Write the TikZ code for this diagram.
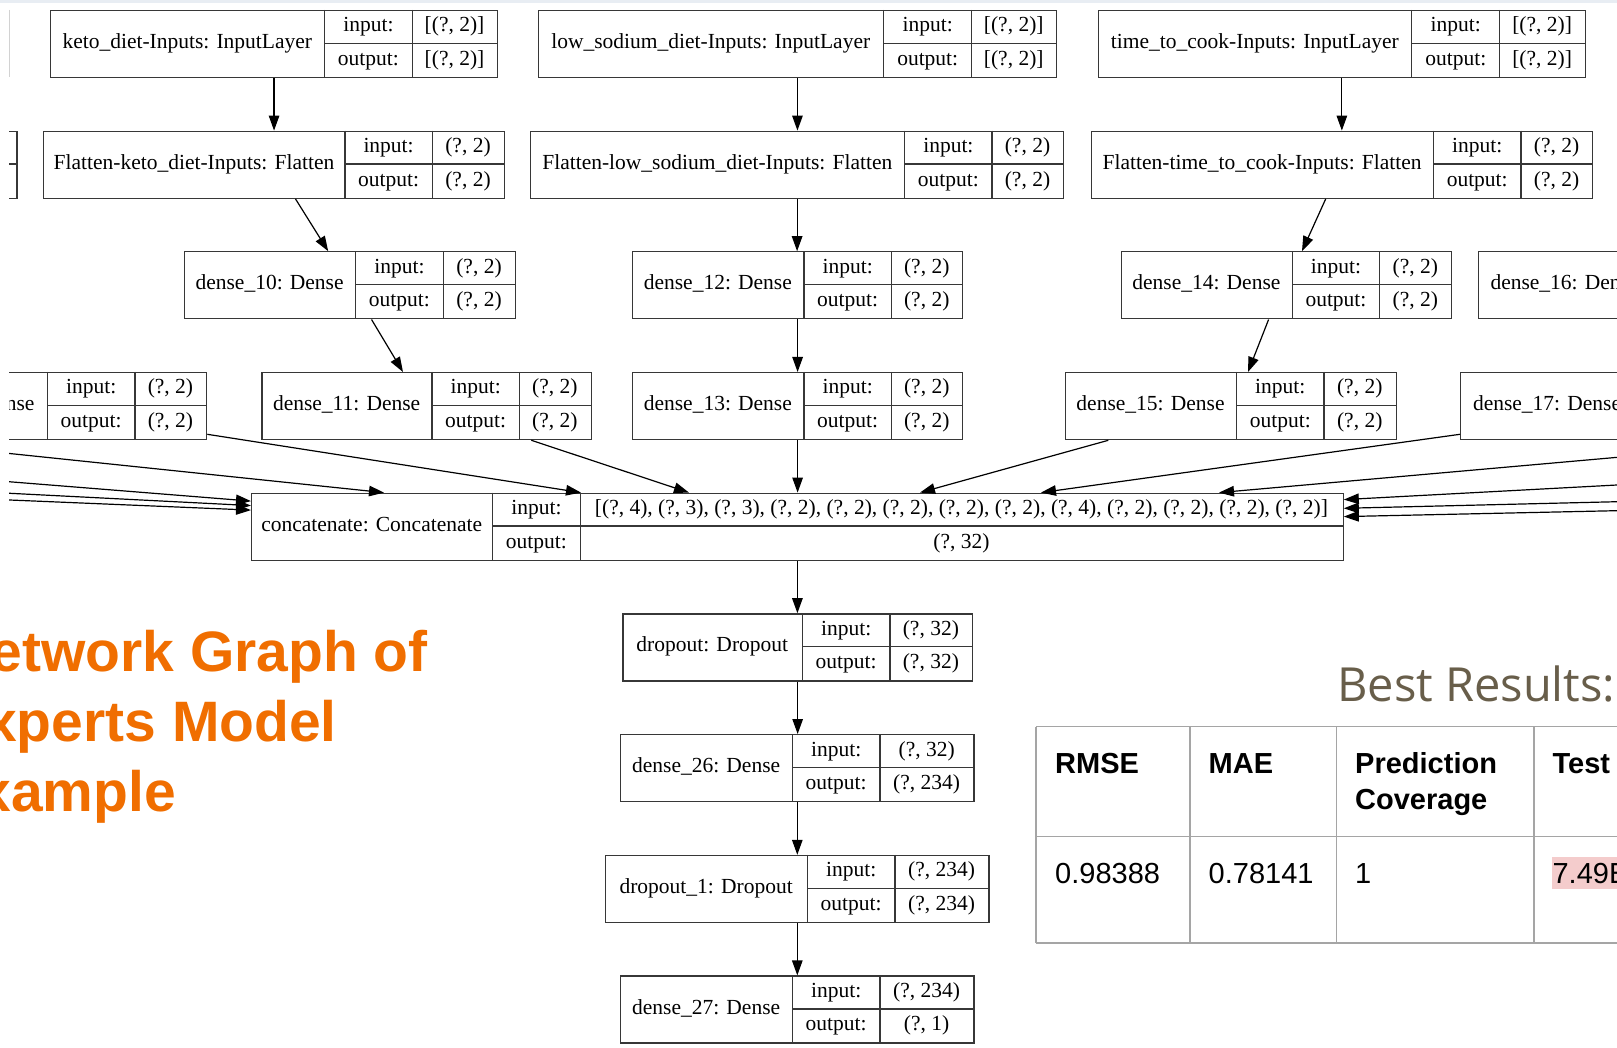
\documentclass[tikz,border=0pt]{standalone}
\usepackage{fontspec}
\setmainfont{Liberation Serif}
\newfontfamily\arialx{Liberation Sans}
\newfontfamily\opensx{Open Sans}
\usetikzlibrary{arrows.meta}
\definecolor{boxgray}{RGB}{55,55,55}
\definecolor{titleorange}{RGB}{240,110,0}
\definecolor{bestcol}{RGB}{104,94,74}
\definecolor{tblgray}{RGB}{165,165,165}
\definecolor{pinkhl}{RGB}{244,204,204}
\definecolor{topband}{RGB}{232,237,243}
\newcommand{\lblfont}{\fontsize{21.5}{24}\selectfont}
\tikzset{
  box/.style={draw=boxgray, line width=1.3pt, inner sep=0pt, anchor=north west},
  boxline/.style={draw=boxgray, line width=1.3pt},
  cell/.style={font=\lblfont, inner sep=0pt, text height=15pt, text depth=4.5pt},
  edge/.style={draw=black, line width=1.2pt, -{Triangle[length=15pt,width=10.5pt]}},
  ttl/.style={font={\arialx\bfseries\fontsize{57}{60}\selectfont}, text=titleorange, inner sep=0pt, anchor=base east},
  tbh/.style={font={\arialx\bfseries\fontsize{29}{32}\selectfont}, inner sep=0pt, anchor=base west},
  tbv/.style={font={\arialx\fontsize{29}{32}\selectfont}, inner sep=0pt, anchor=base west},
  tblline/.style={draw=tblgray, line width=1.8pt},
}
% #1 name, #2 left, #3 div1, #4 div2, #5 right, #6 top, #7 label, #8 input value, #9 output value
\newcommand{\klayer}[9]{%
  \node[box, minimum width={#5-#2}, minimum height=67] (#1) at (#2,#6) {};
  \draw[boxline] (#3,#6) -- (#3,{#6+67}) (#4,#6) -- (#4,{#6+67}) (#3,{#6+33.5}) -- (#5,{#6+33.5});
  \node[cell] (#1-n) at ({(#2+#3)/2},{#6+33.5}) {#7};
  \node[cell] (#1-il) at ({(#3+#4)/2},{#6+16.75}) {input:};
  \node[cell] (#1-ol) at ({(#3+#4)/2},{#6+50.25}) {output:};
  \node[cell] (#1-iv) at ({(#4+#5)/2},{#6+16.75}) {#8};
  \node[cell] (#1-ov) at ({(#4+#5)/2},{#6+50.25}) {#9};
}
\begin{document}
\begin{tikzpicture}[x=1pt,y=-1pt]
\clip (0,0) rectangle (1617,1048);
\fill[white] (0,0) rectangle (1617,1048);
\fill[topband] (0,0) rectangle (1617,3.3);
\draw[gray!35, line width=1pt] (9,10) -- (9,77);

\begin{scope}
\clip (9,3.3) rectangle (1617,1048);
% row 1
\klayer{keto}{49.9}{324.7}{412.2}{496.9}{10}{keto\_diet-Inputs: InputLayer}{[(?, 2)]}{[(?, 2)]}
\klayer{low}{537.9}{883.6}{971.8}{1055.7}{10}{low\_sodium\_diet-Inputs: InputLayer}{[(?, 2)]}{[(?, 2)]}
\klayer{time}{1097.9}{1411.8}{1499.7}{1584.5}{10}{time\_to\_cook-Inputs: InputLayer}{[(?, 2)]}{[(?, 2)]}
% row 2
\node[box, minimum width=200, minimum height=67] (fl0) at (-183.8,130.6) {};
\draw[boxline] (-100,164.1) -- (16.2,164.1);
\klayer{flat1}{43}{345}{432.2}{503.8}{130.6}{Flatten-keto\_diet-Inputs: Flatten}{(?, 2)}{(?, 2)}
\klayer{flat2}{530}{904.6}{992.1}{1062.9}{130.6}{Flatten-low\_sodium\_diet-Inputs: Flatten}{(?, 2)}{(?, 2)}
\klayer{flat3}{1090.9}{1433.4}{1521}{1592.1}{130.6}{Flatten-time\_to\_cook-Inputs: Flatten}{(?, 2)}{(?, 2)}
% row 3
\klayer{d10}{183.5}{355.7}{443.2}{514.8}{251.2}{dense\_10: Dense}{(?, 2)}{(?, 2)}
\klayer{d12}{631.8}{803.9}{891.4}{962.1}{251.2}{dense\_12: Dense}{(?, 2)}{(?, 2)}
\klayer{d14}{1120.6}{1292.2}{1379.7}{1450.9}{251.2}{dense\_14: Dense}{(?, 2)}{(?, 2)}
\node[box, minimum width=400, minimum height=67] (d16) at (1478.1,251.2) {};
\node[cell, anchor=west] (d16-n) at (1490.3,284.7) {dense\_16: Den};
% row 4
\node[box, minimum width=330.1, minimum height=67] (dL) at (-124.1,372) {};
\draw[boxline] (47.4,372) -- (47.4,439) (134.9,372) -- (134.9,439) (47.4,405.5) -- (206,405.5);
\node[cell, anchor=east] (dL-n) at (34.7,405.5) {nse};
\node[cell] (dL-il) at (91.15,388.75) {input:};
\node[cell] (dL-ol) at (91.15,422.25) {output:};
\node[cell] (dL-iv) at (170.45,388.75) {(?, 2)};
\node[cell] (dL-ov) at (170.45,422.25) {(?, 2)};
\klayer{d11}{261.2}{432.1}{519.2}{590.6}{372}{dense\_11: Dense}{(?, 2)}{(?, 2)}
\klayer{d13}{631.8}{803.9}{891.4}{962.1}{372}{dense\_13: Dense}{(?, 2)}{(?, 2)}
\klayer{d15}{1064.5}{1236.5}{1324}{1395.5}{372}{dense\_15: Dense}{(?, 2)}{(?, 2)}
\node[box, minimum width=400, minimum height=67] (d17) at (1460,372) {};
\node[cell, anchor=west] (d17-n) at (1472.8,405.5) {dense\_17: Dense};
% concatenate
\klayer{concat}{251}{492.4}{580.4}{1342.5}{492.6}{concatenate: Concatenate}{[(?, 4), (?, 3), (?, 3), (?, 2), (?, 2), (?, 2), (?, 2), (?, 2), (?, 4), (?, 2), (?, 2), (?, 2), (?, 2)]}{(?, 32)}
% lower chain
\klayer{drop}{622.3}{802.3}{890}{971.7}{613.2}{dropout: Dropout}{(?, 32)}{(?, 32)}
\klayer{d26}{620}{792.3}{880}{973.3}{734}{dense\_26: Dense}{(?, 32)}{(?, 234)}
\klayer{drop1}{605}{807.3}{895}{988.3}{854.8}{dropout\_1: Dropout}{(?, 234)}{(?, 234)}
\klayer{d27}{620}{792.3}{880}{973.3}{975.4}{dense\_27: Dense}{(?, 234)}{(?, 1)}

% free ends of edges from off-picture nodes
\coordinate (inA) at (0,452.5);
\coordinate (inL1) at (0,481);
\coordinate (inL2) at (0,492.8);
\coordinate (inL3) at (0,499.6);
\coordinate (inG) at (1630,456.2);
\coordinate (inR1) at (1630,484.3);
\coordinate (inR2) at (1630,501.4);
\coordinate (inR3) at (1630,510.4);

% edges
\draw[edge] (keto.south) -- (keto.south |- flat1.north);
\draw[edge] (low.south) -- (low.south |- flat2.north);
\draw[edge] (time.south) -- (time.south |- flat3.north);
\draw[edge] ([xshift=252.5]flat1.south west) -- ([xshift=144.7]d10.north west);
\draw[edge] (flat2.south) -- (flat2.south |- d12.north);
\draw[edge] ([xshift=234.8]flat3.south west) -- ([xshift=181.4]d14.north west);
\draw[edge] ([xshift=188]d10.south west) -- ([xshift=141.8]d11.north west);
\draw[edge] (d12.south) -- (d12.south |- d13.north);
\draw[edge] ([xshift=148]d14.south west) -- ([xshift=183.5]d15.north west);

\draw[edge] (inA) -- ([xshift=133]concat.north west);
\draw[edge] ([yshift=6]dL.south east) -- ([xshift=330]concat.north west);
\draw[edge] ([xshift=270.1]d11.south west) -- ([xshift=438]concat.north west);
\draw[edge] (d13.south) -- (d13.south |- concat.north);
\draw[edge] ([xshift=43.8]d15.south west) -- ([xshift=669]concat.north west);
\draw[edge] ([yshift=6]d17.south west) -- ([xshift=790]concat.north west);
\draw[edge] (inG) -- ([xshift=968]concat.north west);
\draw[edge] (inL1) -- ([yshift=-8.5]concat.north west);
\draw[edge] (inL2) -- ([yshift=-13]concat.north west);
\draw[edge] (inL3) -- ([yshift=-17.5]concat.north west);
\draw[edge] (inR1) -- ([yshift=-7]concat.north east);
\draw[edge] (inR2) -- ([yshift=-15.7]concat.north east);
\draw[edge] (inR3) -- ([yshift=-24]concat.north east);

\draw[edge] (concat.south) -- (concat.south |- drop.north);
\draw[edge] (drop.south) -- (drop.south |- d26.north);
\draw[edge] (d26.south) -- (d26.south |- drop1.north);
\draw[edge] (drop1.south) -- (drop1.south |- d27.north);
\end{scope}

% title
\node[ttl] (t1) at (428,671) {etwork Graph of};
\node[ttl] (t2) at (337,741) {xperts Model};
\node[ttl] (t3) at (176,811) {xample};

% results
\node[inner sep=0pt, anchor=base west, font={\opensx\fontsize{47}{52}\selectfont}, text=bestcol] (best) at (1337,701) {Best Results:};
\fill[pinkhl] (1552,857) rectangle (1630,889);
\draw[tblline] (1036,726.5) -- (1630,726.5) (1036,836.5) -- (1630,836.5) (1036,943) -- (1630,943)
  (1036,726.5) -- (1036,943) (1190,726.5) -- (1190,943) (1336.5,726.5) -- (1336.5,943) (1534,726.5) -- (1534,943);
\node[tbh] (h1) at (1055,773) {RMSE};
\node[tbh] (h2) at (1208.5,773) {MAE};
\node[tbh] (h3) at (1355,773) {Prediction};
\node[tbh] (h3b) at (1355,809) {Coverage};
\node[tbh] (h4) at (1552.4,773) {Test};
\node[tbv] (v1) at (1055,883) {0.98388};
\node[tbv] (v2) at (1208.5,883) {0.78141};
\node[tbv] (v3) at (1355,883) {1};
\node[tbv] (v4) at (1552.4,883) {7.49E};
\end{tikzpicture}
\end{document}
